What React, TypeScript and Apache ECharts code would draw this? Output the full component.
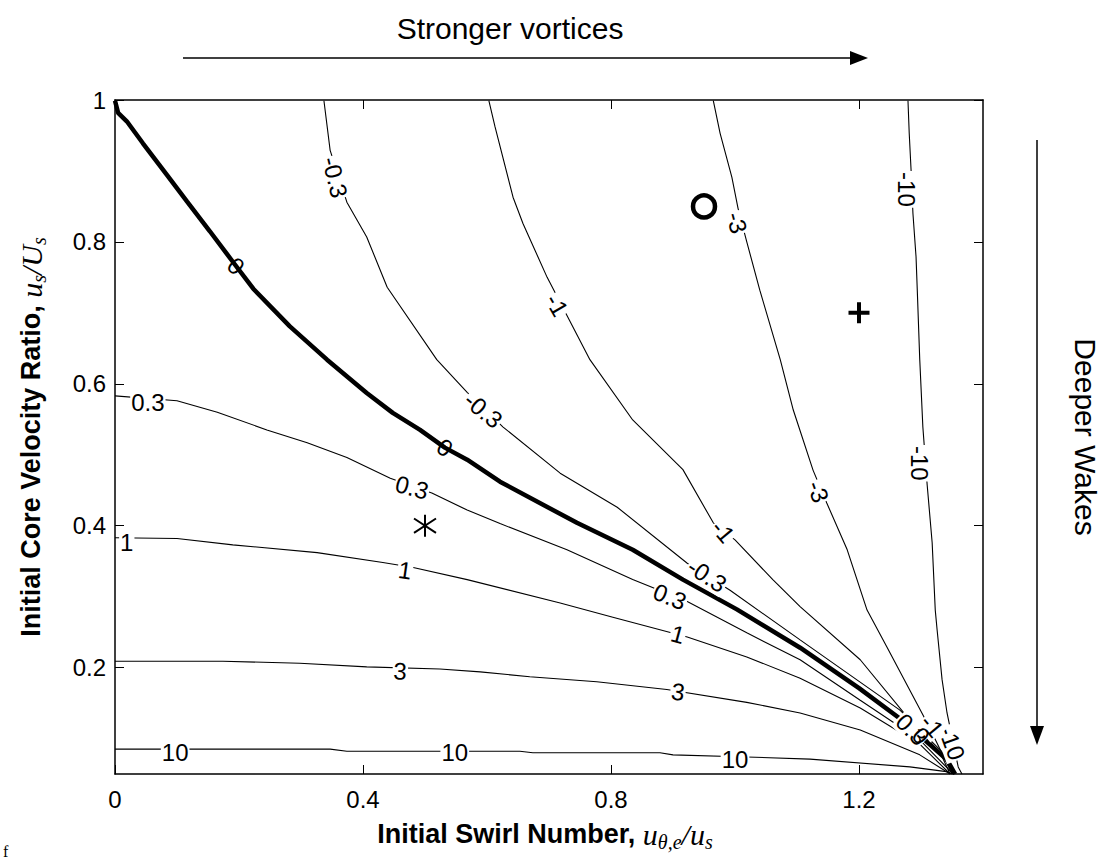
import React, { useEffect, useRef } from 'react';
import * as echarts from 'echarts';

const xTickValues = [0, 0.4, 0.8, 1.2];
const yTickValues = [0.2, 0.4, 0.6, 0.8, 1];

// contour lines [swirl number, velocity ratio]
const contourP10 = [[0,0.085],[0.347,0.085],[0.374,0.082],[0.653,0.082],[0.674,0.080],[0.879,0.080],[0.900,0.077],[1.019,0.074],[1.121,0.071],[1.282,0.060],[1.344,0.053],[1.350,0.050]];
const contourP3 = [[0,0.209],[0.174,0.209],[0.298,0.206],[0.406,0.201],[0.524,0.198],[0.589,0.194],[0.669,0.187],[0.777,0.180],[0.890,0.169],[1.019,0.151],[1.105,0.136],[1.202,0.112],[1.298,0.077],[1.347,0.050]];
const contourP1 = [[0,0.383],[0.100,0.382],[0.190,0.373],[0.326,0.362],[0.432,0.348],[0.481,0.341],[0.568,0.324],[0.718,0.291],[0.803,0.271],[0.923,0.243],[1.019,0.215],[1.105,0.185],[1.202,0.143],[1.298,0.092],[1.347,0.050]];
const contourP03 = [[0,0.583],[0.100,0.576],[0.165,0.560],[0.245,0.535],[0.310,0.517],[0.374,0.496],[0.444,0.467],[0.511,0.446],[0.568,0.422],[0.621,0.403],[0.729,0.366],[0.835,0.324],[0.923,0.293],[1.019,0.249],[1.105,0.211],[1.202,0.154],[1.298,0.098],[1.352,0.050]];
const contourZero = [[0,0.999],[0.005,0.982],[0.019,0.970],[0.045,0.939],[0.084,0.894],[0.116,0.857],[0.153,0.815],[0.190,0.772],[0.223,0.734],[0.282,0.681],[0.342,0.634],[0.406,0.587],[0.448,0.559],[0.492,0.535],[0.532,0.510],[0.568,0.493],[0.621,0.462],[0.745,0.404],[0.835,0.366],[0.916,0.324],[1.003,0.282],[1.105,0.228],[1.200,0.171],[1.274,0.123],[1.342,0.070],[1.355,0.050]];
const contourM03 = [[0.337,0.999],[0.347,0.929],[0.374,0.856],[0.406,0.807],[0.439,0.736],[0.519,0.634],[0.568,0.588],[0.626,0.539],[0.718,0.474],[0.810,0.426],[0.923,0.347],[0.992,0.309],[1.105,0.239],[1.266,0.140],[1.339,0.077],[1.352,0.050]];
const contourM1 = [[0.603,0.999],[0.613,0.962],[0.642,0.863],[0.658,0.826],[0.697,0.750],[0.766,0.634],[0.835,0.549],[0.916,0.479],[0.965,0.404],[1.000,0.380],[1.061,0.324],[1.105,0.286],[1.202,0.211],[1.282,0.126],[1.331,0.080],[1.347,0.050]];
const contourM3 = [[0.965,0.999],[0.976,0.953],[0.995,0.891],[1.005,0.847],[1.019,0.800],[1.040,0.732],[1.073,0.634],[1.094,0.563],[1.126,0.478],[1.148,0.432],[1.181,0.366],[1.213,0.281],[1.245,0.229],[1.282,0.168],[1.310,0.122],[1.339,0.070],[1.350,0.050]];
const contourM10 = [[1.279,0.999],[1.281,0.953],[1.284,0.901],[1.287,0.840],[1.292,0.779],[1.294,0.732],[1.298,0.634],[1.303,0.539],[1.310,0.457],[1.318,0.376],[1.323,0.281],[1.326,0.253],[1.334,0.183],[1.342,0.136],[1.360,0.060],[1.366,0.050]];

// inline contour labels: text, x, y, rotation (deg)
const labelTexts = ['10','10','10','3','3','1','1','1','0.3','0.3','0.3','-0.3','-0.3','-0.3','-1','-1','-3','-3','-10','-10','-10','0.3','-1'];
const labelX = [0.097,0.548,1.0,0.460,0.908,0.019,0.468,0.908,0.053,0.479,0.895,0.355,0.594,0.955,0.713,0.981,1.003,1.134,1.277,1.298,1.350,1.285,1.318];
const labelY = [0.081,0.081,0.070,0.195,0.166,0.377,0.337,0.247,0.573,0.454,0.300,0.891,0.563,0.330,0.711,0.392,0.827,0.448,0.874,0.488,0.094,0.113,0.118];
const labelRot = [0,0,0,-3,-8,0,-8,-15,0,-15,-22,-76,-40,-33,-60,-50,-75,-70,-90,-90,-70,-45,-50];
// labels sitting on the thick zero contour (drawn without a gap)
const zeroLabelX = [0.195, 0.532, 1.300];
const zeroLabelY = [0.766, 0.510, 0.104];
const zeroLabelRot = [-45, -35, -45];

const markerCircle = [0.95, 0.85];
const markerPlus = [1.2, 0.7];
const markerStar = [0.5, 0.4];

const FONT = '"Liberation Sans", Arial, Helvetica, sans-serif';
const MATH = '"Liberation Serif", "Times New Roman", serif';

export default function App() {
  const ref = useRef<HTMLDivElement>(null);
  useEffect(() => {
    document.body.style.margin = '0';
    const chart = echarts.init(ref.current!, undefined, { renderer: 'svg' });
    const line = (data: number[][], width: number) => ({
      type: 'line', data, symbol: 'none', showSymbol: false, smooth: false, silent: true, clip: true,
      lineStyle: { color: '#000', width, opacity: 1 }, z: 2,
    });
    const richMath = {
      b: { fontFamily: FONT, fontWeight: 'bold', fontSize: 27, lineHeight: 36, fill: '#000', verticalAlign: 'middle' },
      m: { fontFamily: MATH, fontStyle: 'italic', fontSize: 30, lineHeight: 36, fill: '#000', verticalAlign: 'middle' },
      s: { fontFamily: MATH, fontStyle: 'italic', fontSize: 20, lineHeight: 20, fill: '#000', verticalAlign: 'bottom' },
    };
    const tick = { show: true, inside: true, length: 9, lineStyle: { color: '#000', width: 1 } };
    const axisCommon = {
      type: 'value', min: 0, max: 1.4,
      axisLine: { show: true, onZero: false, lineStyle: { color: '#000', width: 1.5 } },
      splitLine: { show: false },
    };
    const labelFont = { fontSize: 24, fontFamily: FONT, color: '#000' };
    const hidden = { color: 'rgba(0,0,0,0)', opacity: 1 };
    chart.setOption({
      animation: false,
      grid: { left: 115, right: 126, top: 100, bottom: 86, containLabel: false },
      xAxis: [
        { ...axisCommon, position: 'bottom',
          axisLabel: { show: true, margin: 13, ...labelFont, customValues: xTickValues,
            formatter: (v: number) => String(Math.round(v * 10) / 10) },
          axisTick: { ...tick, customValues: xTickValues } },
        { ...axisCommon, position: 'top', axisLabel: { show: false },
          axisTick: { ...tick, customValues: xTickValues } },
      ],
      yAxis: [
        { ...axisCommon, min: 0.05, max: 1, position: 'left',
          axisLabel: { show: true, margin: 9, ...labelFont, customValues: yTickValues,
            formatter: (v: number) => String(Math.round(v * 10) / 10) },
          axisTick: { ...tick, customValues: yTickValues } },
        { ...axisCommon, min: 0.05, max: 1, position: 'right', axisLabel: { show: false },
          axisTick: { ...tick, customValues: yTickValues } },
      ],
      series: [
        line(contourP10, 1.1), line(contourP3, 1.1), line(contourP1, 1.1), line(contourP03, 1.1),
        line(contourZero, 4.5),
        line(contourM03, 1.1), line(contourM1, 1.1), line(contourM3, 1.1), line(contourM10, 1.1),
        {
          type: 'scatter', silent: true, z: 5, symbolSize: 1, itemStyle: hidden,
          label: { show: true, position: 'inside', fontSize: 24, fontFamily: FONT, color: '#000',
            backgroundColor: '#fff', padding: [0, 1] },
          data: labelTexts.map((t, i) => ({ value: [labelX[i], labelY[i]], label: { formatter: t, rotate: labelRot[i] } })),
        },
        {
          type: 'scatter', silent: true, z: 5, symbolSize: 1, itemStyle: hidden,
          label: { show: true, position: 'inside', fontSize: 24, fontFamily: FONT, color: '#000' },
          data: zeroLabelX.map((x, i) => ({ value: [x, zeroLabelY[i]], label: { formatter: '0', rotate: zeroLabelRot[i] } })),
        },
        { type: 'scatter', silent: true, z: 6, data: [markerCircle], symbol: 'circle', symbolSize: 22,
          itemStyle: { color: 'rgba(0,0,0,0)', borderColor: '#000', borderWidth: 4.5, opacity: 1 } },
        { type: 'scatter', silent: true, z: 6, data: [markerPlus], symbol: 'path://M10,0 L10,20 M0,10 L20,10', symbolSize: 21,
          itemStyle: { color: 'rgba(0,0,0,0)', borderColor: '#000', borderWidth: 4, opacity: 1 } },
        { type: 'scatter', silent: true, z: 6, data: [markerStar], symbol: 'path://M10,0 L10,20 M1,3.5 L19,16.5 M19,3.5 L1,16.5', symbolSize: 22,
          itemStyle: { color: 'rgba(0,0,0,0)', borderColor: '#000', borderWidth: 2, opacity: 1 } },
      ],
      graphic: [
        { type: 'text', x: 510, y: 28, style: { text: 'Stronger vortices', font: `30px ${FONT}`, fill: '#000', align: 'center', verticalAlign: 'middle' } },
        { type: 'line', shape: { x1: 183, y1: 58, x2: 852, y2: 58 }, style: { stroke: '#000', lineWidth: 1.5 } },
        { type: 'polygon', shape: { points: [[850, 51], [868, 58], [850, 65]] }, style: { fill: '#000' } },
        { type: 'text', x: 1085, y: 437, rotation: -Math.PI / 2, style: { text: 'Deeper Wakes', font: `30px ${FONT}`, fill: '#000', align: 'center', verticalAlign: 'middle' } },
        { type: 'line', shape: { x1: 1037, y1: 140, x2: 1037, y2: 728 }, style: { stroke: '#000', lineWidth: 1.5 } },
        { type: 'polygon', shape: { points: [[1030, 726], [1037, 745], [1044, 726]] }, style: { fill: '#000' } },
        { type: 'text', x: 545, y: 834, style: { text: '{b|Initial Swirl Number, }{m|u}{s|θ,e}{m|/u}{s|s}', rich: richMath, align: 'center', verticalAlign: 'middle' } },
        { type: 'text', x: 31, y: 437, rotation: Math.PI / 2, style: { text: '{b|Initial Core Velocity Ratio, }{m|u}{s|s}{m|/U}{s|s}', rich: richMath, align: 'center', verticalAlign: 'middle' } },
        { type: 'text', x: 3, y: 851, style: { text: 'f', font: `16px ${MATH}`, fill: '#000', verticalAlign: 'middle' } },
      ],
    });
    return () => chart.dispose();
  }, []);
  return <div ref={ref} style={{ width: 1109, height: 860 }} />;
}
